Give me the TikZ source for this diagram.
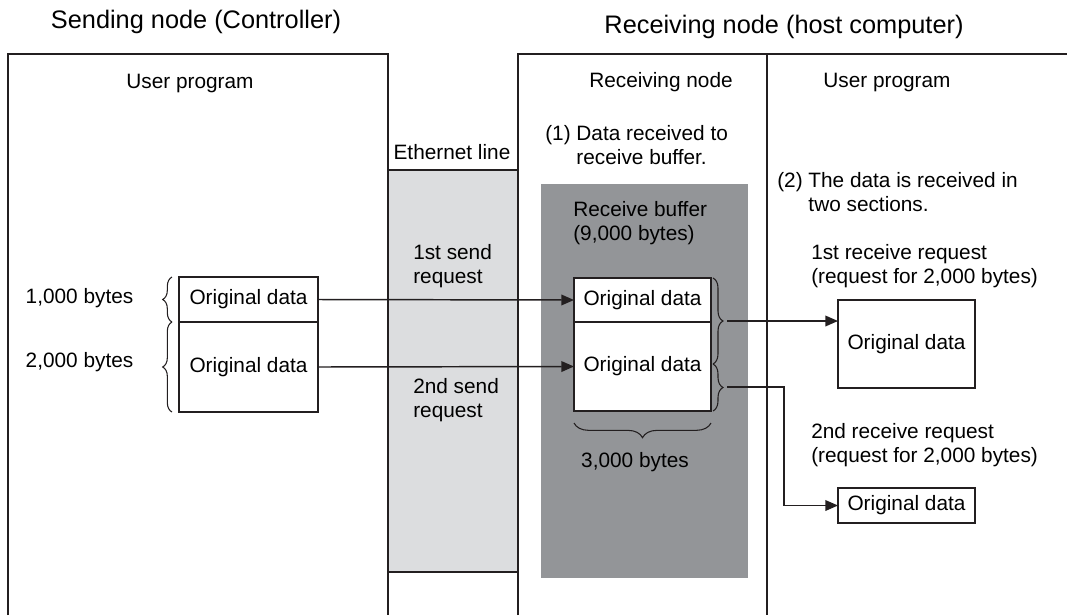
\documentclass[tikz,border=0pt]{standalone}
\usepackage{fontspec}
\setmainfont{Liberation Sans}
\usepackage{xcolor}
\usepackage{tikz}
\usetikzlibrary{arrows.meta,decorations.pathreplacing}
\definecolor{ink}{HTML}{231F20}
\definecolor{wire}{HTML}{DCDDDF}
\definecolor{buff}{HTML}{939598}
\newcommand{\brc}[3]{\draw[ink,line width=0.8pt,decorate,decoration={brace,amplitude=#3}] #1 -- #2;}

\begin{document}
\begin{tikzpicture}[x=0.75pt,y=-0.75pt,font=\fontsize{15.6}{18}\selectfont,
  dat/.style={draw=ink,line width=1.1pt,fill=white,minimum width=102.75pt,inner sep=0pt,outer sep=0pt},
  lbl/.style={align=left,anchor=west,inner sep=0pt},
  ar/.style={ink,line width=1.1pt,-{Triangle[length=9.5pt,width=8pt]}}]
\useasboundingbox (0,0) rectangle (1067,615);
\draw[ink,line width=1.5pt] (8,615)--(8,54)--(388,54)--(388,615);
\filldraw[fill=wire,draw=ink,line width=1.5pt] (388,170) rectangle (518,572);
\draw[ink,line width=1.5pt] (518,615)--(518,54)--(1067,54) (767,54)--(767,615);
\fill[buff] (541,184) rectangle (748,578);
\node[font=\fontsize{19}{23}\selectfont] (ttl1) at (196,22) {Sending node (Controller)};
\node[font=\fontsize{19}{23}\selectfont] (ttl2) at (784,27) {Receiving node (host computer)};
\node (up1) at (190,83) {User program}; \node (rn) at (661,82) {Receiving node}; \node (up2) at (887,82) {User program};
\node (eth) at (452,152) {Ethernet line};
\node[lbl] (st1) at (545,145) {(1) Data received to\\\hphantom{(1) }receive buffer.};
\node[lbl] (st2) at (777,192) {(2) The data is received in\\\hphantom{(2) }two sections.};
\node[lbl] (rb) at (573,223) {Receive buffer\\(9,000 bytes)};
\node[lbl] (s1) at (413,266) {1st send\\request}; \node[lbl] (s2) at (413,400) {2nd send\\request};
\node[anchor=east] (b1) at (138,298) {1,000 bytes}; \node[anchor=east] (b2) at (138,362) {2,000 bytes};
\node[lbl] (q1) at (811,266) {1st receive request\\(request for 2,000 bytes)};
\node[lbl] (q2) at (811,445) {2nd receive request\\(request for 2,000 bytes)};
\node (b3) at (635,462) {3,000 bytes};
\node[dat,minimum width=104.25pt,minimum height=33.75pt] (src1) at (248.5,299.5) {Original data};
\node[dat,minimum width=104.25pt,minimum height=67.5pt] (src2) at (248.5,367) {Original data};
\node[dat,minimum height=33pt] (buf1) at (642.5,300) {Original data};
\node[dat,minimum height=66.75pt] (buf2) at (642.5,366.5) {Original data};
\node[dat,minimum height=66pt] (rcv1) at (906.5,344) {Original data};
\node[dat,minimum height=26.25pt] (rcv2) at (906.5,505.5) {Original data};
\brc{(172,322)}{(172,277)}{7pt} \brc{(172,412)}{(172,322)}{7pt}
\brc{(713,278)}{(713,364)}{7.5pt} \brc{(713,364)}{(713,411)}{7.5pt}
\brc{(711,423)}{(574,423)}{11pt}
\coordinate (t1) at (727,321); \coordinate (t2) at (727,387);
\draw[ar] (src1.east) -- (buf1.west); \draw[ar] (src2.east) -- (buf2.west);
\draw[ar] (t1) -- (t1 -| rcv1.west); \draw[ar] (t2) -- ++(57,0) |- (rcv2.west);
\end{tikzpicture}
\end{document}
